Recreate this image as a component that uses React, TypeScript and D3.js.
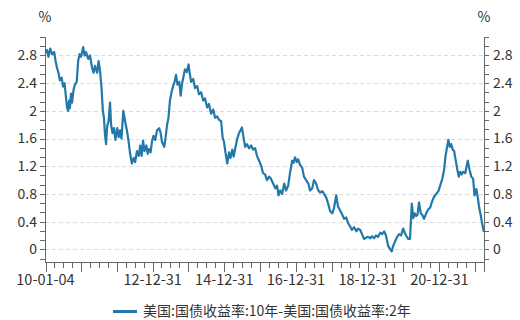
import React from "react";
import * as d3 from "d3";

// decimal-year dates and values of the 10Y-2Y US treasury spread (%)
const yearFrac: number[] = [
  2010.01, 2010.05, 2010.09, 2010.14, 2010.19, 2010.25, 2010.29, 2010.33, 2010.37, 2010.41,
  2010.46, 2010.5, 2010.54, 2010.58, 2010.61, 2010.64, 2010.67, 2010.69, 2010.72, 2010.75,
  2010.79, 2010.83, 2010.88, 2010.92, 2010.96, 2011.0, 2011.06, 2011.1, 2011.14, 2011.2,
  2011.25, 2011.31, 2011.35, 2011.39, 2011.45, 2011.49, 2011.53, 2011.57, 2011.61, 2011.64,
  2011.67, 2011.7, 2011.73, 2011.77, 2011.81, 2011.84, 2011.88, 2011.92, 2011.96, 2012.01,
  2012.05, 2012.09, 2012.13, 2012.18, 2012.23, 2012.28, 2012.33, 2012.37, 2012.42, 2012.47,
  2012.51, 2012.56, 2012.61, 2012.65, 2012.69, 2012.73, 2012.77, 2012.82, 2012.86, 2012.9,
  2012.94, 2012.98, 2013.02, 2013.07, 2013.12, 2013.18, 2013.22, 2013.26, 2013.32, 2013.36,
  2013.4, 2013.44, 2013.48, 2013.53, 2013.57, 2013.61, 2013.65, 2013.69, 2013.74, 2013.78,
  2013.82, 2013.86, 2013.9, 2013.95, 2014.0, 2014.03, 2014.07, 2014.13, 2014.18, 2014.24,
  2014.29, 2014.35, 2014.41, 2014.46, 2014.52, 2014.57, 2014.63, 2014.69, 2014.74, 2014.8,
  2014.85, 2014.91, 2014.95, 2014.99, 2015.03, 2015.08, 2015.13, 2015.17, 2015.22, 2015.26,
  2015.3, 2015.36, 2015.41, 2015.49, 2015.54, 2015.58, 2015.63, 2015.69, 2015.75, 2015.8,
  2015.86, 2015.91, 2015.97, 2016.03, 2016.08, 2016.14, 2016.19, 2016.25, 2016.3, 2016.36,
  2016.42, 2016.47, 2016.51, 2016.56, 2016.61, 2016.67, 2016.72, 2016.78, 2016.83, 2016.89,
  2016.93, 2016.97, 2017.02, 2017.06, 2017.11, 2017.17, 2017.22, 2017.28, 2017.34, 2017.39,
  2017.45, 2017.5, 2017.56, 2017.62, 2017.67, 2017.73, 2017.78, 2017.84, 2017.9, 2017.95,
  2018.01, 2018.06, 2018.12, 2018.17, 2018.23, 2018.29, 2018.34, 2018.4, 2018.45, 2018.51,
  2018.56, 2018.62, 2018.68, 2018.73, 2018.79, 2018.84, 2018.9, 2018.96, 2019.01, 2019.07,
  2019.12, 2019.18, 2019.23, 2019.29, 2019.35, 2019.4, 2019.46, 2019.51, 2019.57, 2019.63,
  2019.67, 2019.71, 2019.77, 2019.82, 2019.88, 2019.93, 2019.99, 2020.03, 2020.07, 2020.13,
  2020.18, 2020.23, 2020.27, 2020.31, 2020.35, 2020.39, 2020.43, 2020.48, 2020.52, 2020.57,
  2020.63, 2020.69, 2020.74, 2020.8, 2020.85, 2020.91, 2020.97, 2021.02, 2021.08, 2021.13,
  2021.17, 2021.22, 2021.25, 2021.29, 2021.33, 2021.37, 2021.41, 2021.45, 2021.5, 2021.54,
  2021.58, 2021.62, 2021.66, 2021.72, 2021.79, 2021.84, 2021.89, 2021.94, 2021.98, 2022.03,
  2022.07, 2022.11, 2022.15, 2022.19, 2022.24,
];

const spread: number[] = [
  2.84, 2.88, 2.78, 2.9, 2.82, 2.85, 2.72, 2.62, 2.55, 2.44,
  2.48, 2.35, 2.4, 2.2, 2.05, 2.0, 2.15, 2.04, 2.25, 2.12,
  2.3, 2.38, 2.42, 2.72, 2.82, 2.78, 2.92, 2.8, 2.85, 2.75,
  2.8, 2.62, 2.55, 2.65, 2.55, 2.72, 2.58, 2.35, 2.0, 1.9,
  1.65, 1.52, 1.78, 1.85, 2.12, 1.8, 1.68, 1.75, 1.58, 1.75,
  1.62, 1.72, 1.6, 2.0, 1.85, 1.72, 1.55, 1.38, 1.24, 1.32,
  1.26, 1.42, 1.35, 1.5, 1.35, 1.57, 1.42, 1.5, 1.38, 1.45,
  1.4, 1.56, 1.64, 1.58, 1.72, 1.75, 1.68, 1.55, 1.48, 1.62,
  1.8, 1.9, 2.15, 2.28, 2.36, 2.42, 2.52, 2.38, 2.42, 2.22,
  2.4, 2.5, 2.6, 2.56, 2.67, 2.55, 2.42, 2.46, 2.33, 2.36,
  2.24, 2.27, 2.15, 2.18, 2.05, 2.1, 1.96, 2.02, 1.9, 1.92,
  1.87, 1.85, 1.62, 1.55, 1.4, 1.24, 1.4, 1.32, 1.44, 1.34,
  1.45, 1.6, 1.68, 1.76, 1.6, 1.48, 1.52, 1.46, 1.5, 1.44,
  1.46, 1.35, 1.28, 1.2, 1.1, 1.08, 1.0, 1.05, 1.02, 0.95,
  0.88, 0.92, 0.78, 0.85, 0.8, 0.95, 0.85, 0.92, 1.1, 1.28,
  1.25, 1.33, 1.26, 1.3, 1.22, 1.18, 1.05, 1.0, 0.95, 0.85,
  0.88, 1.0, 0.95, 0.85, 0.82, 0.84, 0.8, 0.75, 0.65, 0.55,
  0.52, 0.6, 0.78, 0.62, 0.56, 0.5, 0.44, 0.46, 0.38, 0.33,
  0.28, 0.32, 0.26, 0.3, 0.28, 0.22, 0.15, 0.17, 0.18, 0.16,
  0.19, 0.16, 0.2, 0.18, 0.24, 0.22, 0.26, 0.2, 0.05, 0.0,
  -0.03, 0.05, 0.12, 0.18, 0.22, 0.2, 0.3, 0.24, 0.2, 0.15,
  0.15, 0.66, 0.45, 0.52, 0.48, 0.5, 0.68, 0.52, 0.5, 0.44,
  0.52, 0.58, 0.6, 0.7, 0.76, 0.8, 0.84, 0.92, 1.02, 1.15,
  1.35, 1.5, 1.58, 1.48, 1.52, 1.44, 1.42, 1.3, 1.15, 1.05,
  1.12, 1.08, 1.12, 1.1, 1.28, 1.15, 1.05, 1.02, 0.78, 0.87,
  0.75, 0.6, 0.5, 0.38, 0.25,
];

const yTicks: number[] = [0, 0.4, 0.8, 1.2, 1.6, 2, 2.4, 2.8];
const xStart = "2010-01-04";
const xEnd = "2022-03-31";
const labelYears: number[] = [2012, 2014, 2016, 2018, 2020];
const unitLabel = "%";
const seriesName = "美国:国债收益率:10年-美国:国债收益率:2年";

const FONT = "'Noto Sans CJK SC', 'Noto Sans', sans-serif";
const LINE = "#2279a9";
const AXIS = "#666";
const TEXT = "#333";

function toDate(t: number): Date {
  const y = Math.floor(t);
  const a = Date.UTC(y, 0, 1);
  const b = Date.UTC(y + 1, 0, 1);
  return new Date(a + (t - y) * (b - a));
}

export default function App() {
  const W = 520;
  const H = 320;
  const left = 45;
  const right = 484;
  const top = 37;
  const bottom = 262;

  const start = new Date(xStart + "T00:00:00Z");
  const end = new Date(xEnd + "T00:00:00Z");
  const x = d3.scaleUtc().domain([start, end]).range([left + 0.5, right]);
  const y = d3.scaleLinear().domain([-0.183, 3.067]).range([bottom, top]);

  const pts = yearFrac.map((t, i) => ({ d: toDate(t), v: spread[i] }));
  const line = d3
    .line<{ d: Date; v: number }>()
    .x((p) => x(p.d))
    .y((p) => y(p.v))
    .curve(d3.curveLinear);

  const minorY = d3.range(-1, 24).map((k) => (k * 0.4) / 3).filter((v) => v <= 3.07);

  const yearEnds = d3.range(2010, 2022).map((yy) => new Date(Date.UTC(yy, 11, 31)));
  const quarterEnds: Date[] = [];
  for (let yy = 2010; yy <= 2022; yy++) {
    [
      [2, 31],
      [5, 30],
      [8, 30],
    ].forEach(([m, dd]) => {
      const dt = new Date(Date.UTC(yy, m, dd));
      if (dt > start && dt < end) quarterEnds.push(dt);
    });
  }
  const fmt = d3.utcFormat("%y-%m-%d");

  return (
    <svg width={W} height={H} style={{ display: "block", position: "absolute", left: 0, top: 0 }}>
      <rect width={W} height={H} fill="#fff" />
      {/* grid */}
      {yTicks.map((v) => (
        <line
          key={"g" + v}
          x1={left}
          x2={right}
          y1={Math.round(y(v)) + 0.5}
          y2={Math.round(y(v)) + 0.5}
          stroke="#dcdcdc"
          strokeDasharray="4,3"
        />
      ))}
      {/* series */}
      <path d={line(pts) || ""} fill="none" stroke={LINE} strokeWidth={2.2} strokeLinejoin="round" />

      {/* left axis */}
      <line x1={left + 0.5} x2={left + 0.5} y1={top} y2={bottom} stroke={AXIS} />
      {minorY.map((v) => (
        <line key={"ly" + v} x1={left - 5} x2={left} y1={Math.round(y(v)) + 0.5} y2={Math.round(y(v)) + 0.5} stroke={AXIS} />
      ))}
      {yTicks.map((v) => (
        <text key={"lt" + v} x={left - 8} y={y(v)} dy="0.35em" textAnchor="end" fontSize={14} fontFamily={FONT} fill={TEXT}>
          {String(v)}
        </text>
      ))}
      <text x={left} y={22} textAnchor="middle" fontSize={14} fontFamily={FONT} fill={TEXT}>
        {unitLabel}
      </text>

      {/* right axis */}
      <line x1={right + 0.5} x2={right + 0.5} y1={top} y2={bottom} stroke={AXIS} />
      {minorY.map((v) => (
        <line key={"ry" + v} x1={right} x2={right + 5} y1={Math.round(y(v)) + 0.5} y2={Math.round(y(v)) + 0.5} stroke={AXIS} />
      ))}
      {yTicks.map((v) => (
        <text key={"rt" + v} x={right + 9} y={y(v)} dy="0.35em" textAnchor="start" fontSize={14} fontFamily={FONT} fill={TEXT}>
          {String(v)}
        </text>
      ))}
      <text x={right} y={22} textAnchor="middle" fontSize={14} fontFamily={FONT} fill={TEXT}>
        {unitLabel}
      </text>

      {/* x axis */}
      <line x1={left} x2={right + 0.5} y1={bottom + 0.5} y2={bottom + 0.5} stroke={AXIS} />
      {quarterEnds.map((d, i) => (
        <line key={"q" + i} x1={Math.round(x(d)) + 0.5} x2={Math.round(x(d)) + 0.5} y1={bottom} y2={bottom + 6} stroke={AXIS} />
      ))}
      {[start, ...yearEnds, end].map((d, i) => (
        <line key={"yr" + i} x1={Math.round(x(d)) + 0.5} x2={Math.round(x(d)) + 0.5} y1={bottom} y2={bottom + 10} stroke={AXIS} />
      ))}
      <text x={x(start)} y={285} textAnchor="middle" fontSize={14.5} fontFamily={FONT} fill={TEXT}>
        {fmt(start)}
      </text>
      {labelYears.map((yy) => {
        const d = new Date(Date.UTC(yy, 11, 31));
        return (
          <text key={"xl" + yy} x={x(d)} y={285} textAnchor="middle" fontSize={14.5} fontFamily={FONT} fill={TEXT}>
            {fmt(d)}
          </text>
        );
      })}

      {/* legend */}
      <line x1={113} x2={137} y1={311.5} y2={311.5} stroke={LINE} strokeWidth={3} />
      <text x={143} y={311.5} dy="0.35em" fontSize={14} fontFamily={FONT} fill={TEXT}>
        {seriesName}
      </text>
    </svg>
  );
}
